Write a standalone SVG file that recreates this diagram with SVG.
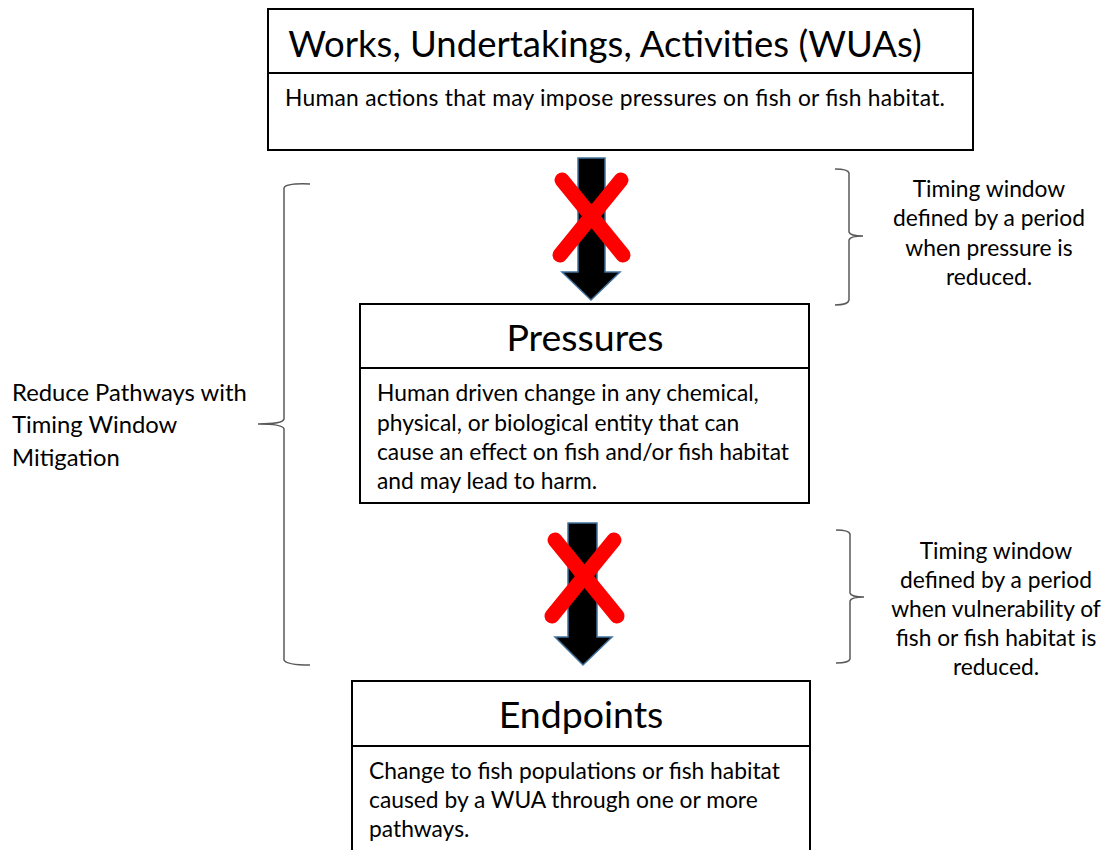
<svg xmlns="http://www.w3.org/2000/svg" width="1109" height="850" viewBox="0 0 1109 850">
  <style>
    .box { fill: #ffffff; stroke: #000000; stroke-width: 2; }
    .div { stroke: #000000; stroke-width: 2; }
    .title { font-family: Lato, "Open Sans", sans-serif; font-size: 36.5px; fill: #000; text-anchor: middle; }
    .head { font-family: Lato, "Open Sans", sans-serif; font-size: 37.5px; fill: #000; text-anchor: middle; }
    .body { font-family: Lato, "Open Sans", sans-serif; font-size: 22.8px; fill: #000; }
    .note { font-family: Lato, "Open Sans", sans-serif; font-size: 22.8px; fill: #000; text-anchor: middle; }
    .side { font-family: Lato, "Open Sans", sans-serif; font-size: 23.8px; fill: #000; }
    .brace { fill: none; stroke: #595959; stroke-width: 1.5; }
    .arrow { fill: #000000; stroke: #41719c; stroke-width: 1.5; stroke-linejoin: miter; }
    .cross { stroke: #ff0000; stroke-width: 15; stroke-linecap: round; }
  </style>

  <!-- Works, Undertakings, Activities -->
  <g id="wuas">
    <rect class="box" x="268" y="9" width="705" height="141"/>
    <line class="div" x1="268" y1="73" x2="973" y2="73"/>
    <text class="title" x="605" y="57">Works, Undertakings, Activities (WUAs)</text>
    <text class="body" x="285" y="106" textLength="660">Human actions that may impose pressures on fish or fish habitat.</text>
  </g>

  <!-- Pressures -->
  <g id="pressures">
    <rect class="box" x="360" y="304" width="449" height="199"/>
    <line class="div" x1="360" y1="368" x2="809" y2="368"/>
    <text class="head" x="585" y="351">Pressures</text>
    <text class="body" x="377" y="401">Human driven change in any chemical,</text>
    <text class="body" x="377" y="431">physical, or biological entity that can</text>
    <text class="body" x="377" y="460" textLength="412">cause an effect on fish and/or fish habitat</text>
    <text class="body" x="377" y="489">and may lead to harm.</text>
  </g>

  <!-- Endpoints -->
  <g id="endpoints">
    <rect class="box" x="352" y="681" width="458" height="180"/>
    <line class="div" x1="352" y1="746" x2="810" y2="746"/>
    <text class="head" x="581" y="728">Endpoints</text>
    <text class="body" x="369" y="779">Change to fish populations or fish habitat</text>
    <text class="body" x="369" y="808">caused by a WUA through one or more</text>
    <text class="body" x="369" y="837">pathways.</text>
  </g>

  <!-- Connectors: block arrows crossed out -->
  <g id="connectors">
    <path class="arrow" d="M578,158 H605 V272 H620 L591,300 L562,272 H578 Z"/>
    <line class="cross" x1="562" y1="180" x2="623" y2="255"/>
    <line class="cross" x1="621" y1="180" x2="560" y2="255"/>

    <path class="arrow" d="M568,523 H597 V637 H612 L583,665 L555,637 H568 Z"/>
    <line class="cross" x1="555" y1="540" x2="617" y2="616"/>
    <line class="cross" x1="614" y1="540" x2="552" y2="616"/>
  </g>

  <!-- Left brace -->
  <g id="pathways-brace">
    <path class="brace" d="M310,184 Q286,183 284,188 V419 Q283,424 258,424 Q283,424 284,429 V660 Q286,665 310,665"/>
    <text class="side" x="12" y="401">Reduce Pathways with</text>
    <text class="side" x="12" y="433">Timing Window</text>
    <text class="side" x="12" y="466">Mitigation</text>
  </g>

  <!-- Right brace: pressure window -->
  <g id="pressure-window">
    <path class="brace" d="M835,169 Q848,169 849,173 V232 Q850,236 863,236 Q850,236 849,240 V300 Q848,305 835,305"/>
    <text class="note" x="989" y="197">Timing window</text>
    <text class="note" x="989" y="226">defined by a period</text>
    <text class="note" x="989" y="256">when pressure is</text>
    <text class="note" x="989" y="285">reduced.</text>
  </g>

  <!-- Right brace: vulnerability window -->
  <g id="vulnerability-window">
    <path class="brace" d="M836,530 Q849,530 850,534 V593 Q851,597 864,597 Q851,597 850,601 V659 Q849,663 836,663"/>
    <text class="note" x="996" y="559">Timing window</text>
    <text class="note" x="996" y="588">defined by a period</text>
    <text class="note" x="996" y="617">when vulnerability of</text>
    <text class="note" x="996" y="646">fish or fish habitat is</text>
    <text class="note" x="996" y="675">reduced.</text>
  </g>
</svg>
